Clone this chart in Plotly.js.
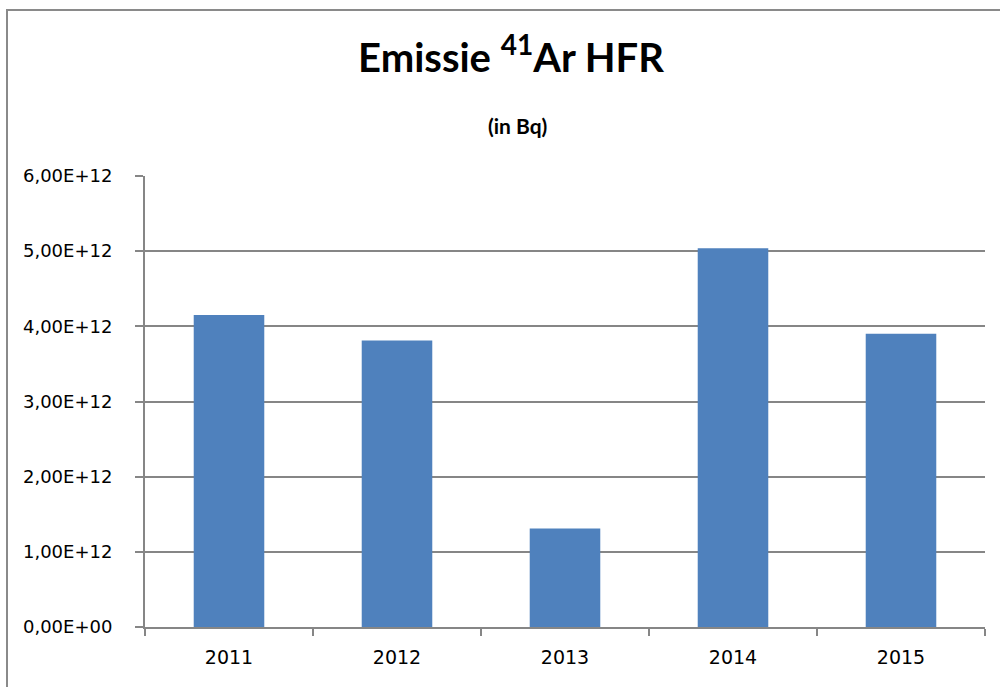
<!DOCTYPE html>
<html>
<head>
<meta charset="utf-8">
<script src="https://cdn.plot.ly/plotly-3.0.1.min.js"></script>
<style>
  html, body { margin: 0; padding: 0; background: #fff; overflow: hidden; }
  #chart { position: absolute; left: 0; top: 0; width: 1000px; height: 687px; }
  #frame { position: absolute; left: 6px; top: 9px; width: 1200px; height: 900px;
           border-left: 2px solid #8a8a8a; border-top: 2px solid #8a8a8a; pointer-events: none; }
</style>
</head>
<body>
<div id="chart"></div>
<div id="frame"></div>
<script>
const years = ["2011", "2012", "2013", "2014", "2015"];
const emissionBq = [4.15e12, 3.81e12, 1.31e12, 5.04e12, 3.90e12];
const yTickValues = [0, 1e12, 2e12, 3e12, 4e12, 5e12, 6e12];
const yTickLabels = ["0,00E+00", "1,00E+12", "2,00E+12", "3,00E+12", "4,00E+12", "5,00E+12", "6,00E+12"];
const titleText = "Emissie <sup>41</sup>Ar HFR";
const subtitleText = "(in Bq)";

const trace = {
  type: "bar",
  x: years,
  y: emissionBq,
  marker: { color: "#4F81BD", line: { width: 0 } },
  hoverinfo: "x+y"
};

const layout = {
  width: 1000,
  height: 687,
  paper_bgcolor: "#ffffff",
  plot_bgcolor: "#ffffff",
  margin: { l: 145, r: 15, t: 176, b: 60, pad: 0 },
  bargap: 0.58,
  showlegend: false,
  title: {
    text: titleText,
    x: 0.511, xref: "container", xanchor: "center",
    y: 1 - 58 / 687, yref: "container", yanchor: "middle",
    font: { family: "Lato, 'Open Sans', sans-serif", size: 40, color: "#000000", weight: "bold" }
  },
  annotations: [{
    text: subtitleText,
    xref: "paper", yref: "paper",
    x: (517 - 145) / 840, y: (626.7 - 125) / 451,
    xanchor: "center", yanchor: "middle",
    showarrow: false,
    font: { family: "Lato, 'Open Sans', sans-serif", size: 21, color: "#000000", weight: "bold" }
  }],
  xaxis: {
    type: "category",
    showline: true, linecolor: "#868686", linewidth: 2,
    ticks: "outside", tickson: "boundaries", ticklen: 7, tickwidth: 2, tickcolor: "#868686",
    showgrid: false, zeroline: false,
    tickfont: { family: "DejaVu Sans, sans-serif", size: 19, color: "#000000" },
    ticklabelstandoff: 12
  },
  yaxis: {
    range: [0, 6e12],
    tickvals: yTickValues, ticktext: yTickLabels,
    showline: true, linecolor: "#868686", linewidth: 2,
    ticks: "outside", ticklen: 8, tickwidth: 2, tickcolor: "#868686",
    showgrid: true, gridcolor: "#868686", gridwidth: 2,
    zeroline: false,
    tickfont: { family: "DejaVu Sans, sans-serif", size: 18, color: "#000000" },
    ticklabelstandoff: 19
  }
};

Plotly.newPlot("chart", [trace], layout, { displayModeBar: false, staticPlot: true });
</script>
</body>
</html>
